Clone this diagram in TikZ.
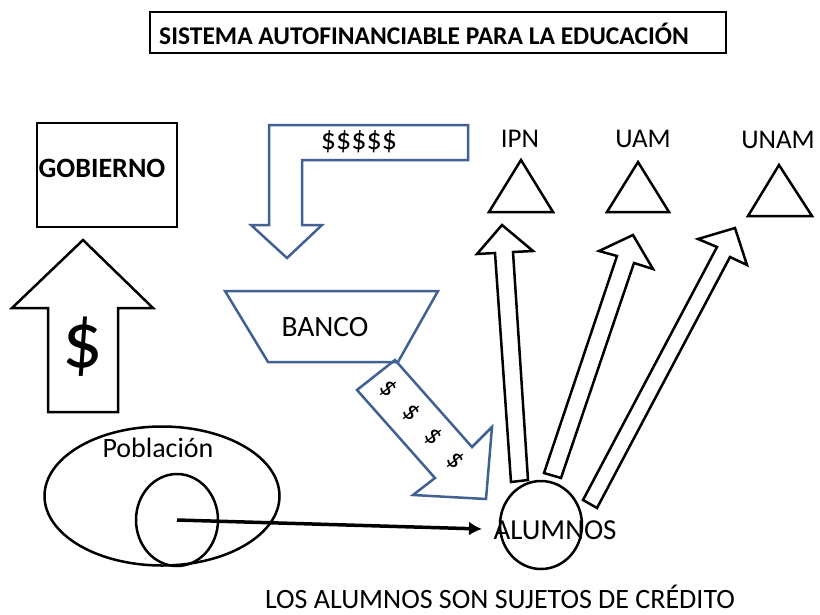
\documentclass[tikz,border=0pt]{standalone}
\usepackage{fontspec}
\setmainfont{Carlito}
\usetikzlibrary{arrows.meta,shapes.geometric}
\definecolor{sblue}{RGB}{64,97,145}
\begin{document}
\begin{tikzpicture}[x=1pt,y=-1pt,line join=miter,
  blk/.style={draw=black,line width=2.5pt},
  blu/.style={draw=sblue,line width=2.5pt},
  lbl/.style={inner sep=0pt,font=\fontsize{27}{30}\selectfont},
  conn/.style={draw=black,line width=3.5pt,-{Latex[length=13pt,width=14pt]}}]
\useasboundingbox (0,0) rectangle (820,614);
% title
\node[blk,rectangle,minimum width=576pt,minimum height=41pt,inner sep=0pt] (titlebox) at (438,32.5) {};
\node[inner sep=0pt,anchor=west,font=\bfseries\fontsize{25.5}{28}\selectfont] (title) at (159,34) {SISTEMA AUTOFINANCIABLE PARA LA EDUCACIÓN};
% gobierno
\node[blk,rectangle,minimum width=140pt,minimum height=104pt,inner sep=0pt] (gobbox) at (107,175) {};
\node[lbl,font=\bfseries\fontsize{28}{30}\selectfont] (gob) at (102,168) {GOBIERNO};
% up arrow with $
\draw[blk] (48,412) -- (48,308) -- (12,308) -- (83,240) -- (153,308) -- (118,308) -- (118,412) -- cycle;
\node[inner sep=0pt,font=\fontsize{80}{84}\selectfont] (bigdollar) at (83,347) {\$};
% bent blue arrow
\draw[blu] (468,125) -- (269,125) -- (269,225) -- (251,225) -- (287,258) -- (322,225) -- (302,225) -- (302,160) -- (468,160) -- cycle;
\node[inner sep=0pt,font=\fontsize{30}{32}\selectfont] (dollars) at (359,142) {\$\$\$\$\$};
% banco
\draw[blu] (225,291) -- (438,291) -- (398,362) -- (268,362) -- cycle;
\node[lbl,font=\fontsize{29.5}{32}\selectfont] (banco) at (325,327) {BANCO};
% diagonal blue arrow
\draw[blu] (395,360) -- (472,447) -- (492,427) -- (486,499) -- (413,495) -- (435,478) -- (357,390) -- cycle;
\node[inner sep=0pt,rotate=-47,font=\fontsize{27}{28}\selectfont] (diagd) at (422,425) {\$\hspace{19pt}\$\hspace{19pt}\$\hspace{19pt}\$};
% universities
\node[lbl] (ipn) at (520,139) {IPN};
\node[lbl] (uam) at (643,139) {UAM};
\node[lbl] (unam) at (778,140) {UNAM};
\draw[blk] (521,160) -- (553,212) -- (489,212) -- cycle;
\draw[blk] (638,162) -- (669,212) -- (607,212) -- cycle;
\draw[blk] (779,165) -- (812,216) -- (748,216) -- cycle;
% hollow arrows from alumnos
\draw[blk] (511,482) -- (495,253) -- (477,254) -- (502,225) -- (533,251) -- (513,252) -- (528,480) -- cycle;
\draw[blk] (544,473) -- (617,256) -- (599,251) -- (633,235) -- (653,269) -- (634,263) -- (561,478) -- cycle;
\draw[blk] (583,500) -- (717,247) -- (698,239) -- (735,228) -- (747,265) -- (730,257) -- (597,508) -- cycle;
% poblacion
\node[blk,ellipse,minimum width=235pt,minimum height=139pt,inner sep=0pt] (pobl) at (162,496) {};
\node[lbl,font=\fontsize{28}{30}\selectfont] (pobltext) at (158,448) {Población};
\node[blk,ellipse,minimum width=82pt,minimum height=92pt,inner sep=0pt] (sub) at (177,520) {};
% alumnos
\node[blk,ellipse,minimum width=82pt,minimum height=88pt,inner sep=0pt] (alumnos) at (541,525) {};
\node[lbl,font=\fontsize{29}{31}\selectfont] (alumtext) at (555,530) {ALUMNOS};
\coordinate (alumtip) at (482,529);
\draw[conn] (sub.center) -- (alumtip);
% bottom
\node[inner sep=0pt,font=\fontsize{28}{30}\selectfont] (bottom) at (500,597) {LOS ALUMNOS SON SUJETOS DE CRÉDITO};
\end{tikzpicture}
\end{document}
